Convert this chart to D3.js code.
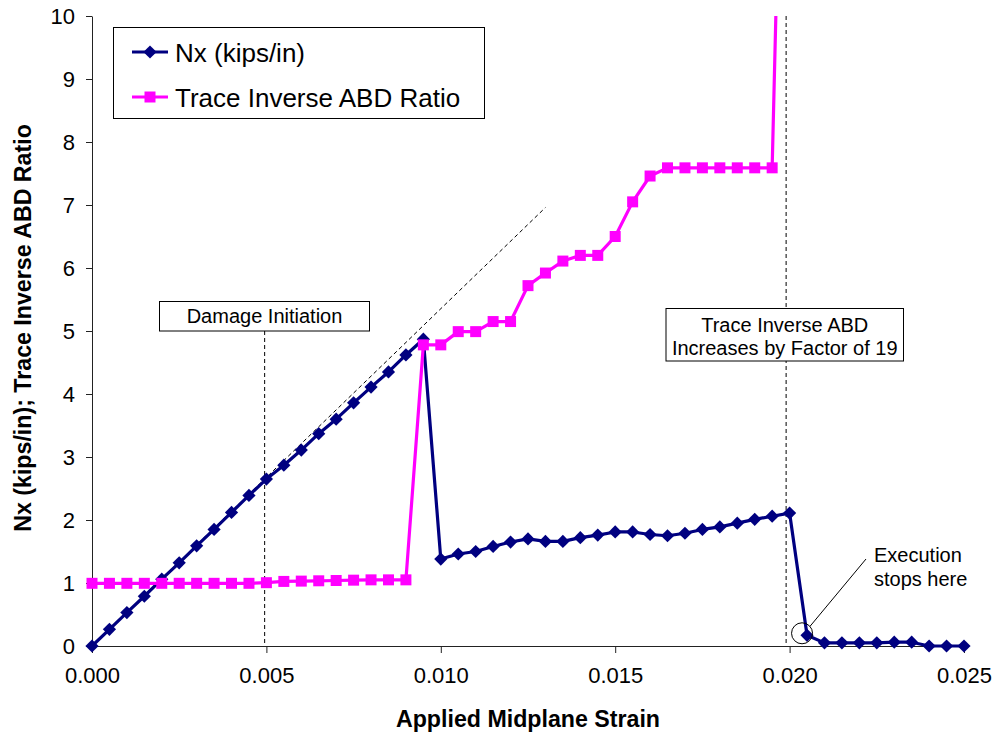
<!DOCTYPE html>
<html>
<head>
<meta charset="utf-8">
<script src="https://cdn.jsdelivr.net/npm/d3@7"></script>
<style>
  html, body { margin: 0; padding: 0; background: #fff; }
  svg { display: block; font-family: "Liberation Sans", Arial, sans-serif; }
</style>
</head>
<body>
<svg id="chart" width="997" height="735"></svg>
<script>
// ---- data ----
const strain = [0.0000,0.0005,0.0010,0.0015,0.0020,0.0025,0.0030,0.0035,0.0040,0.0045,
                0.0050,0.0055,0.0060,0.0065,0.0070,0.0075,0.0080,0.0085,0.0090,0.0095,
                0.0100,0.0105,0.0110,0.0115,0.0120,0.0125,0.0130,0.0135,0.0140,0.0145,
                0.0150,0.0155,0.0160,0.0165,0.0170,0.0175,0.0180,0.0185,0.0190,0.0195,
                0.0200,0.0205,0.0210,0.0215,0.0220,0.0225,0.0230,0.0235,0.0240,0.0245,0.0250];
const nx = [0, 0.265, 0.53, 0.79, 1.06, 1.32, 1.59, 1.85, 2.12, 2.39,
            2.65, 2.87, 3.11, 3.37, 3.60, 3.86, 4.11, 4.35, 4.62, 4.87,
            1.38, 1.46, 1.50, 1.58, 1.65, 1.70, 1.66, 1.66, 1.72, 1.76,
            1.81, 1.81, 1.77, 1.75, 1.79, 1.85, 1.89, 1.95, 2.01, 2.06,
            2.11, 0.17, 0.05, 0.05, 0.05, 0.05, 0.06, 0.06, 0.0, 0.0, 0.0];
const traceRatio = [0.995, 0.995, 0.995, 0.995, 0.995, 0.995, 0.995, 0.995, 0.995, 0.995,
                    1.005, 1.025, 1.03, 1.035, 1.04, 1.045, 1.05, 1.05, 1.05, 4.78,
                    4.78, 4.99, 4.99, 5.15, 5.15, 5.72, 5.92, 6.11, 6.20, 6.20,
                    6.50, 7.05, 7.46, 7.59, 7.59, 7.59, 7.59, 7.59, 7.59, 7.59,
                    19.0];
const xTicks = [0, 0.005, 0.010, 0.015, 0.020, 0.025];
const yTicks = [0, 1, 2, 3, 4, 5, 6, 7, 8, 9, 10];
const seriesNames = ["Nx (kips/in)", "Trace Inverse ABD Ratio"];
const xTitle = "Applied Midplane Strain";
const yTitle = "Nx (kips/in); Trace Inverse ABD Ratio";
const refLine = [[0, 0], [0.013, 6.96]];
const damageStrain = 0.00495;
const factorStrain = 0.0199;
const damageText = ["Damage Initiation"];
const factorText = ["Trace Inverse ABD", "Increases by Factor of 19"];
const execText = ["Execution", "stops here"];
const execIndex = 41;

// ---- layout ----
const svg = d3.select("#chart");
const x = d3.scaleLinear().domain([0, 0.025]).range([92, 964]);
const y = d3.scaleLinear().domain([0, 10]).range([646, 16]);
const navy = "#000080", magenta = "#FF00FF";

svg.append("defs").append("clipPath").attr("id", "plotclip")
  .append("rect").attr("x", 80).attr("y", y(10)).attr("width", 900).attr("height", y(0) - y(10) + 20);

// axes
const yAxis = svg.append("g").attr("transform", `translate(${x(0)},0)`)
  .call(d3.axisLeft(y).tickValues(yTicks).tickFormat(d3.format("d")).tickSize(6).tickPadding(11).tickSizeOuter(0));
const xAxis = svg.append("g").attr("transform", `translate(0,${y(0)})`)
  .call(d3.axisBottom(x).tickValues(xTicks).tickFormat(d3.format(".3f")).tickSize(7).tickPadding(14).tickSizeOuter(0));
[yAxis, xAxis].forEach(a => {
  a.selectAll("path.domain").attr("stroke", "#222").attr("stroke-width", 1);
  a.selectAll(".tick line").attr("stroke", "#222");
  a.selectAll(".tick text").attr("font-size", 22).attr("fill", "#000")
    .attr("font-family", "Liberation Sans, Arial, sans-serif");
});

// titles
svg.append("text").attr("x", (x(0) + x(0.025)) / 2).attr("y", 727)
  .attr("text-anchor", "middle").attr("font-weight", "bold").attr("font-size", 23.2)
  .text(xTitle);
svg.append("text").attr("transform", `translate(31,${(y(0) + y(10)) / 2 - 3}) rotate(-90)`)
  .attr("text-anchor", "middle").attr("font-weight", "bold").attr("font-size", 23.2)
  .text(yTitle);

// reference dashed lines
const dash = "4,3";
svg.append("line").attr("x1", x(refLine[0][0])).attr("y1", y(refLine[0][1]))
  .attr("x2", x(refLine[1][0])).attr("y2", y(refLine[1][1]))
  .attr("stroke", "#000").attr("stroke-width", 1).attr("stroke-dasharray", dash);
svg.append("line").attr("x1", x(damageStrain)).attr("x2", x(damageStrain))
  .attr("y1", 331).attr("y2", y(0))
  .attr("stroke", "#000").attr("stroke-width", 1).attr("stroke-dasharray", dash);
svg.append("line").attr("x1", x(factorStrain)).attr("x2", x(factorStrain))
  .attr("y1", y(10)).attr("y2", y(0))
  .attr("stroke", "#000").attr("stroke-width", 1).attr("stroke-dasharray", dash);

// series
const diamond = r => `M0,${-r}L${r},0L0,${r}L${-r},0Z`;
const square = s => `M${-s/2},${-s/2}h${s}v${s}h${-s}Z`;
const plot = svg.append("g").attr("clip-path", "url(#plotclip)");
const line = d3.line().x(d => x(d[0])).y(d => y(d[1]));

const nxData = strain.map((s, i) => [s, nx[i]]);
const trData = traceRatio.map((v, i) => [strain[i], v]);

plot.append("path").datum(nxData).attr("d", line)
  .attr("fill", "none").attr("stroke", navy).attr("stroke-width", 3.2).attr("stroke-linejoin", "round");
plot.selectAll(".nxm").data(nxData).join("path").attr("class", "nxm")
  .attr("transform", d => `translate(${x(d[0])},${y(d[1])})`)
  .attr("d", diamond(6.6)).attr("fill", navy);

plot.append("path").datum(trData).attr("d", line)
  .attr("fill", "none").attr("stroke", magenta).attr("stroke-width", 3.2).attr("stroke-linejoin", "round");
plot.selectAll(".trm").data(trData).join("path").attr("class", "trm")
  .attr("transform", d => `translate(${x(d[0])},${y(d[1])})`)
  .attr("d", square(11)).attr("fill", magenta);

// annotation boxes
function textBox(x0, y0, x1, y1, lines, lineYs) {
  svg.append("rect").attr("x", x0).attr("y", y0).attr("width", x1 - x0).attr("height", y1 - y0)
    .attr("fill", "#fff").attr("stroke", "#000").attr("stroke-width", 1);
  lines.forEach((t, i) => {
    svg.append("text").attr("x", (x0 + x1) / 2).attr("y", lineYs[i])
      .attr("text-anchor", "middle").attr("font-size", 20).text(t);
  });
}
textBox(159.5, 301.5, 369.5, 331, damageText, [323]);
textBox(666, 308.5, 903.5, 361, factorText, [331.5, 355]);

// execution callout
const ex = x(strain[execIndex]) - 5, ey = y(nx[execIndex]) - 2;
svg.append("circle").attr("cx", ex).attr("cy", ey).attr("r", 10.5)
  .attr("fill", "none").attr("stroke", "#000").attr("stroke-width", 1);
svg.append("line").attr("x1", ex + 8).attr("y1", ey - 7).attr("x2", 866).attr("y2", 559)
  .attr("stroke", "#000").attr("stroke-width", 1);
execText.forEach((t, i) => {
  svg.append("text").attr("x", 874).attr("y", 562 + i * 24).attr("font-size", 20).text(t);
});

// legend
const lg = svg.append("g");
lg.append("rect").attr("x", 113.5).attr("y", 27.5).attr("width", 371).attr("height", 91)
  .attr("fill", "#fff").attr("stroke", "#000").attr("stroke-width", 1);
const legendRows = [
  {name: seriesNames[0], color: navy, sym: diamond(6.6), cy: 52},
  {name: seriesNames[1], color: magenta, sym: square(11), cy: 97}
];
legendRows.forEach(r => {
  lg.append("line").attr("x1", 132).attr("x2", 168).attr("y1", r.cy).attr("y2", r.cy)
    .attr("stroke", r.color).attr("stroke-width", 3.2);
  lg.append("path").attr("d", r.sym).attr("transform", `translate(150,${r.cy})`).attr("fill", r.color);
  lg.append("text").attr("x", 175).attr("y", r.cy + 9.5).attr("font-size", 26).text(r.name);
});
</script>
</body>
</html>
